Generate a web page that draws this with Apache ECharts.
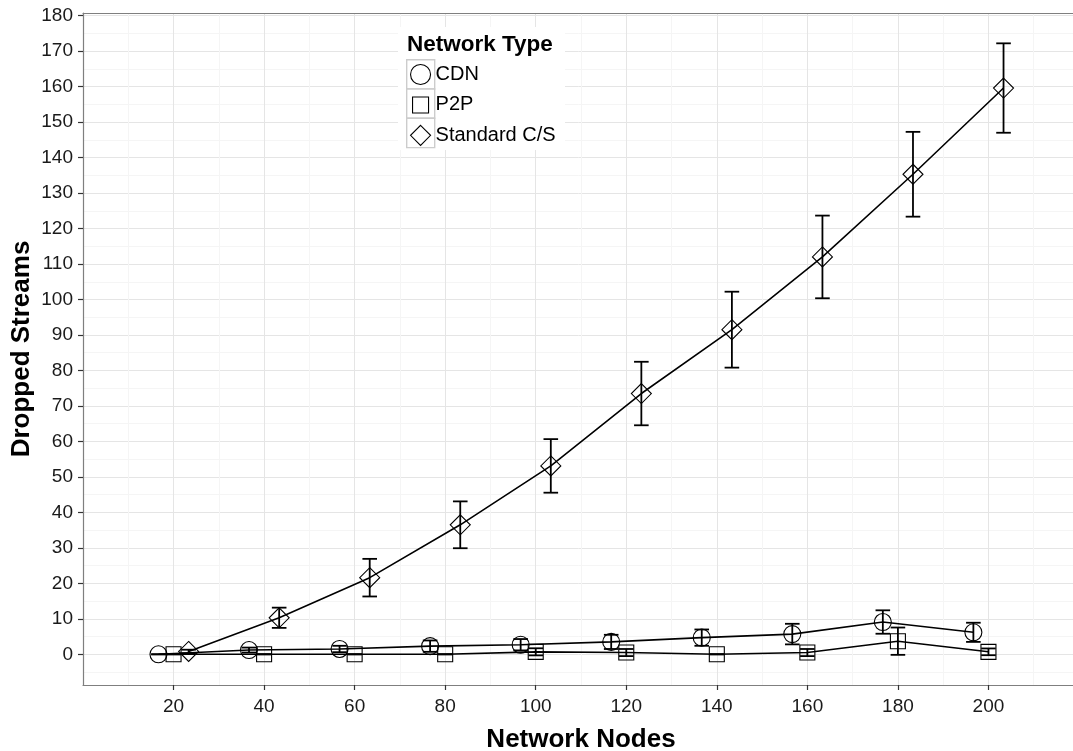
<!DOCTYPE html>
<html>
<head>
<meta charset="utf-8">
<script src="https://cdn.jsdelivr.net/npm/echarts@6/dist/echarts.min.js"></script>
<style>
html,body{margin:0;padding:0;background:#fff;}
#chart{width:1073px;height:751px;}
</style>
</head>
<body>
<div id="chart"></div>
<script>
// ---- data ----
const networkNodes = [20, 40, 60, 80, 100, 120, 140, 160, 180, 200];
const seriesNames = ['CDN', 'P2P', 'Standard C/S'];
const cdnValues = [0, 1.2, 1.5, 2.3, 2.7, 3.5, 4.7, 5.7, 9.1, 6.2];
const cdnErr    = [0, 0.7, 0.9, 1.6, 1.6, 2.0, 2.3, 2.9, 3.3, 2.7];
const p2pValues = [0, 0, 0, 0, 0.7, 0.5, 0, 0.5, 3.7, 0.7];
const p2pErr    = [0, 0, 0, 0, 1.0, 1.0, 0, 1.0, 3.85, 0.95];
const csValues  = [0.8, 10.3, 21.6, 36.5, 53.1, 73.5, 91.5, 112.0, 135.3, 159.6];
const csErr     = [0.5, 2.85, 5.3, 6.6, 7.55, 8.95, 10.7, 11.65, 11.95, 12.6];
const xTicks = [20, 40, 60, 80, 100, 120, 140, 160, 180, 200];
const xMinorGrid = [10, 30, 50, 70, 90, 110, 130, 150, 170, 190, 210];
const yTicks = [0, 10, 20, 30, 40, 50, 60, 70, 80, 90, 100, 110, 120, 130, 140, 150, 160, 170, 180];
const yMinorGrid = [-5, 5, 15, 25, 35, 45, 55, 65, 75, 85, 95, 105, 115, 125, 135, 145, 155, 165, 175];

// ---- layout / style ----
const dodge = [-3.33, 0, 3.33];
const symbols = ['circle', 'rect', 'diamond'];
const symbolSizes = [17, 15, 20];
const valuesList = [cdnValues, p2pValues, csValues];
const errList = [cdnErr, p2pErr, csErr];
const X_MIN = 0, X_MAX = 220, Y_MIN = -8.65, Y_MAX = 180.75;

const chart = echarts.init(document.getElementById('chart'), null, {renderer: 'canvas'});

const series = [];
seriesNames.forEach((name, i) => {
  series.push({
    name: name,
    type: 'line',
    xAxisIndex: 0, yAxisIndex: 0,
    data: networkNodes.map((n, k) => [n + dodge[i], valuesList[i][k]]),
    symbol: symbols[i],
    symbolSize: symbolSizes[i],
    showAllSymbol: true,
    lineStyle: {color: '#000', width: 1.6},
    itemStyle: {color: 'rgba(0,0,0,0)', borderColor: '#000', borderWidth: 1.1},
    emphasis: {disabled: true},
    z: 3,
    animation: false
  });
  series.push({
    name: name,
    type: 'custom',
    xAxisIndex: 0, yAxisIndex: 0,
    data: networkNodes.map((n, k) => [n + dodge[i], valuesList[i][k] - errList[i][k], valuesList[i][k] + errList[i][k]]),
    renderItem: function (params, api) {
      const x = api.value(0);
      const lo = api.coord([x, api.value(1)]);
      const hi = api.coord([x, api.value(2)]);
      const hw = 7.3;
      const st = {stroke: '#000', lineWidth: 1.8};
      return {
        type: 'group',
        children: [
          {type: 'line', shape: {x1: lo[0], y1: lo[1], x2: hi[0], y2: hi[1]}, style: st},
          {type: 'line', shape: {x1: lo[0] - hw, y1: lo[1], x2: lo[0] + hw, y2: lo[1]}, style: st},
          {type: 'line', shape: {x1: hi[0] - hw, y1: hi[1], x2: hi[0] + hw, y2: hi[1]}, style: st}
        ]
      };
    },
    z: 4,
    silent: true,
    animation: false
  });
});

const gridColor = '#e5e5e5';
const minorColor = '#f5f5f5';
const axisColor = '#7f7f7f';
const fontFam = '"Liberation Sans", Arial, Helvetica, sans-serif';

function hiddenAxis(min, max, values, color, pos, showLine) {
  return {
    type: 'value', min: min, max: max, position: pos,
    axisLine: {show: showLine, onZero: false, lineStyle: {color: axisColor, width: 1.2}},
    axisLabel: {show: false},
    axisTick: {show: false, customValues: values},
    splitLine: {show: true, lineStyle: {color: color, width: 1}},
    minorSplitLine: {show: false},
    silent: true
  };
}

const option = {
  backgroundColor: '#fff',
  animation: false,
  textStyle: {fontFamily: fontFam},
  title: {
    text: 'Network Type',
    left: 407,
    top: 33,
    padding: 0,
    textStyle: {fontFamily: fontFam, fontSize: 22.5, fontWeight: 'bold', color: '#000'}
  },
  legend: {
    data: [
      {name: 'CDN', icon: 'circle'},
      {name: 'P2P', icon: 'path://M0,0M20,20M2,2L18,2L18,18L2,18Z'},
      {name: 'Standard C/S', icon: 'diamond'}
    ],
    orient: 'vertical',
    left: 410,
    top: 64,
    padding: 0,
    itemWidth: 20,
    itemHeight: 20,
    itemGap: 9.3,
    itemStyle: {color: 'rgba(0,0,0,0)', borderColor: '#000', borderWidth: 1.1},
    lineStyle: {opacity: 0},
    textStyle: {fontFamily: fontFam, fontSize: 20, color: '#000', lineHeight: 20},
    selectedMode: false
  },
  graphic: [
    {type: 'rect', left: 398, top: 27, shape: {width: 167, height: 123}, style: {fill: '#fff'}, z: 1, silent: true},
    {type: 'rect', left: 406, top: 59, shape: {width: 28, height: 29.3}, style: {fill: '#fff', stroke: '#cccccc', lineWidth: 1.4}, z: 1, silent: true},
    {type: 'rect', left: 406, top: 88.3, shape: {width: 28, height: 29.3}, style: {fill: '#fff', stroke: '#cccccc', lineWidth: 1.4}, z: 1, silent: true},
    {type: 'rect', left: 406, top: 117.6, shape: {width: 28, height: 29.3}, style: {fill: '#fff', stroke: '#cccccc', lineWidth: 1.4}, z: 1, silent: true}
  ],
  grid: {
    left: 83, right: -6, top: 13, bottom: 66,
    containLabel: false,
    outerBoundsMode: 'none',
    show: false
  },
  xAxis: [
    {
      type: 'value',
      min: X_MIN, max: X_MAX,
      position: 'bottom',
      name: 'Network Nodes',
      nameLocation: 'middle',
      nameGap: 42,
      nameTextStyle: {fontFamily: fontFam, fontSize: 26, fontWeight: 'bold', color: '#000'},
      axisLine: {show: true, onZero: false, lineStyle: {color: axisColor, width: 1.2}},
      axisTick: {show: true, length: 5, customValues: xTicks, lineStyle: {color: '#333', width: 1.2}},
      axisLabel: {customValues: xTicks, fontSize: 19, color: '#1a1a1a', margin: 12, fontFamily: fontFam},
      splitLine: {show: true, lineStyle: {color: gridColor, width: 1}},
      minorSplitLine: {show: false}
    },
    hiddenAxis(X_MIN, X_MAX, xMinorGrid, minorColor, 'top', true)
  ],
  yAxis: [
    {
      type: 'value',
      min: Y_MIN, max: Y_MAX,
      position: 'left',
      name: 'Dropped Streams',
      nameLocation: 'middle',
      nameGap: 48,
      nameMoveOverlap: false,
      nameTextStyle: {fontFamily: fontFam, fontSize: 26, fontWeight: 'bold', color: '#000'},
      axisLine: {show: true, onZero: false, lineStyle: {color: axisColor, width: 1.2}},
      axisTick: {show: true, length: 5, customValues: yTicks, lineStyle: {color: '#333', width: 1.2}},
      axisLabel: {customValues: yTicks, fontSize: 19, color: '#1a1a1a', margin: 10, fontFamily: fontFam},
      splitLine: {show: true, lineStyle: {color: gridColor, width: 1}},
      minorSplitLine: {show: false}
    },
    hiddenAxis(Y_MIN, Y_MAX, yMinorGrid, minorColor, 'right', false)
  ],
  series: series
};
chart.setOption(option);
</script>
</body>
</html>
